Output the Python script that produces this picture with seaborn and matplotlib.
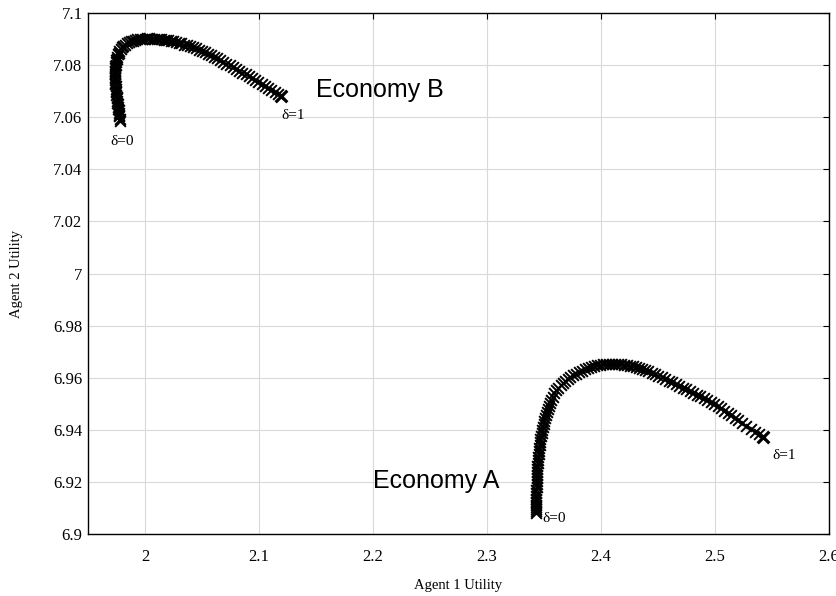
import matplotlib
matplotlib.use("Agg")
import matplotlib.pyplot as plt
import seaborn as sns
import pandas as pd

# Utility frontier traced as delta goes from 0 to 1, Economy A
econ_a_u1 = [
    2.3430, 2.3430, 2.3430, 2.3431, 2.3431, 2.3432, 2.3432, 2.3433, 2.3434, 2.3434,
    2.3435, 2.3436, 2.3437, 2.3438, 2.3439, 2.3440, 2.3441, 2.3442, 2.3444, 2.3447,
    2.3449, 2.3452, 2.3455, 2.3458, 2.3461, 2.3465, 2.3469, 2.3474, 2.3479, 2.3484,
    2.3490, 2.3496, 2.3503, 2.3509, 2.3516, 2.3524, 2.3532, 2.3542, 2.3553, 2.3564,
    2.3576,
    2.3592, 2.3609, 2.3626, 2.3646, 2.3666, 2.3687, 2.3709, 2.3732, 2.3755, 2.3780,
    2.3805, 2.3831, 2.3856, 2.3882, 2.3909, 2.3935, 2.3961, 2.3988, 2.4014, 2.4040,
    2.4067, 2.4093, 2.4119, 2.4146, 2.4172, 2.4198, 2.4225, 2.4251, 2.4277, 2.4304,
    2.4332, 2.4359,
    2.4386, 2.4415, 2.4444, 2.4474, 2.4504, 2.4533, 2.4564, 2.4595, 2.4625, 2.4656,
    2.4687, 2.4718, 2.4748, 2.4779, 2.4810, 2.4840, 2.4871, 2.4902, 2.4932, 2.4963,
    2.4994, 2.5024, 2.5054, 2.5083, 2.5113, 2.5143, 2.5173, 2.5203, 2.5239, 2.5276,
    2.5313, 2.5350, 2.5387, 2.5424,
]
econ_a_u2 = [
    6.9081, 6.9088, 6.9096, 6.9104, 6.9111, 6.9123, 6.9134, 6.9146, 6.9157, 6.9169,
    6.9180, 6.9192, 6.9203, 6.9215, 6.9227, 6.9238, 6.9250, 6.9261, 6.9273, 6.9284,
    6.9296, 6.9307, 6.9319, 6.9330, 6.9342, 6.9353, 6.9365, 6.9376, 6.9388, 6.9399,
    6.9411, 6.9422, 6.9434, 6.9445, 6.9457, 6.9468, 6.9480, 6.9491, 6.9503, 6.9514,
    6.9526,
    6.9542, 6.9552, 6.9562, 6.9571, 6.9580, 6.9588, 6.9595, 6.9603, 6.9610, 6.9616,
    6.9622, 6.9627, 6.9632, 6.9637, 6.9641, 6.9644, 6.9647, 6.9650, 6.9651, 6.9653,
    6.9654, 6.9654, 6.9654, 6.9653, 6.9652, 6.9650, 6.9648, 6.9646, 6.9643, 6.9640,
    6.9637, 6.9633,
    6.9629, 6.9624, 6.9619, 6.9614, 6.9608, 6.9602, 6.9595, 6.9589, 6.9582, 6.9575,
    6.9568, 6.9562, 6.9555, 6.9549, 6.9542, 6.9535, 6.9528, 6.9521, 6.9514, 6.9506,
    6.9498, 6.9490, 6.9482, 6.9473, 6.9464, 6.9456, 6.9446, 6.9437, 6.9426, 6.9415,
    6.9404, 6.9393, 6.9382, 6.9371,
]

# Utility frontier traced as delta goes from 0 to 1, Economy B
econ_b_u1 = [
    1.9781, 1.9778, 1.9775, 1.9773, 1.9770, 1.9768, 1.9765, 1.9762, 1.9760, 1.9757,
    1.9754, 1.9753, 1.9751, 1.9749, 1.9747, 1.9746, 1.9744, 1.9742, 1.9741, 1.9740,
    1.9739, 1.9739, 1.9739, 1.9739, 1.9739, 1.9739, 1.9740, 1.9741, 1.9743, 1.9745,
    1.9747, 1.9751, 1.9755, 1.9761,
    1.9768, 1.9776, 1.9787, 1.9798, 1.9811, 1.9825, 1.9841, 1.9858, 1.9875, 1.9894,
    1.9913, 1.9933, 1.9954, 1.9975, 1.9996, 2.0017, 2.0038, 2.0059, 2.0080, 2.0101,
    2.0122, 2.0143, 2.0164, 2.0185, 2.0206, 2.0227, 2.0249, 2.0271, 2.0294,
    2.0318, 2.0342, 2.0367, 2.0392, 2.0418, 2.0444, 2.0470, 2.0496, 2.0524, 2.0551,
    2.0578, 2.0605, 2.0632, 2.0660, 2.0687, 2.0714, 2.0742, 2.0770, 2.0798, 2.0826,
    2.0854, 2.0882, 2.0911, 2.0939, 2.0967, 2.0995, 2.1023, 2.1051, 2.1079, 2.1108,
    2.1137, 2.1166, 2.1195,
]
econ_b_u2 = [
    7.0587, 7.0595, 7.0603, 7.0610, 7.0618, 7.0626, 7.0633, 7.0641, 7.0649, 7.0656,
    7.0664, 7.0672, 7.0679, 7.0687, 7.0695, 7.0702, 7.0710, 7.0718, 7.0726, 7.0733,
    7.0741, 7.0749, 7.0756, 7.0764, 7.0772, 7.0779, 7.0787, 7.0795, 7.0802, 7.0810,
    7.0818, 7.0825, 7.0833, 7.0841,
    7.0848, 7.0855, 7.0861, 7.0868, 7.0873, 7.0879, 7.0883, 7.0888, 7.0891, 7.0894,
    7.0897, 7.0899, 7.0901, 7.0902, 7.0902, 7.0903, 7.0903, 7.0902, 7.0902, 7.0901,
    7.0901, 7.0899, 7.0898, 7.0897, 7.0895, 7.0893, 7.0891, 7.0889, 7.0886,
    7.0883, 7.0879, 7.0876, 7.0872, 7.0868, 7.0864, 7.0859, 7.0854, 7.0849, 7.0843,
    7.0838, 7.0832, 7.0826, 7.0820, 7.0813, 7.0806, 7.0800, 7.0793, 7.0786, 7.0778,
    7.0771, 7.0764, 7.0757, 7.0749, 7.0742, 7.0735, 7.0727, 7.0720, 7.0713, 7.0705,
    7.0697, 7.0690, 7.0682,
]

x_ticks = [2.0, 2.1, 2.2, 2.3, 2.4, 2.5, 2.6]
x_tick_labels = ["2", "2.1", "2.2", "2.3", "2.4", "2.5", "2.6"]
y_ticks = [6.90, 6.92, 6.94, 6.96, 6.98, 7.00, 7.02, 7.04, 7.06, 7.08, 7.10]
y_tick_labels = ["6.9", "6.92", "6.94", "6.96", "6.98", "7", "7.02", "7.04",
                 "7.06", "7.08", "7.1"]

# Text annotations: (label, x, y)
economy_labels = [("Economy B", 2.15, 7.0705), ("Economy A", 2.20, 6.9205)]
delta_labels = [("δ=1", 2.55, 6.9303), ("δ=0", 2.349, 6.9058),
                ("δ=1", 2.1193, 7.0605), ("δ=0", 1.9693, 7.0505)]

sns.set_theme(style="white")
plt.rcParams["font.family"] = ["Liberation Serif", "DejaVu Serif"]

fig = plt.figure(figsize=(8.37, 5.96), dpi=100)
ax = fig.add_axes([88 / 837, 62 / 596, 741 / 837, 521 / 596])

frames = []
for name, u1, u2 in [("A", econ_a_u1, econ_a_u2), ("B", econ_b_u1, econ_b_u2)]:
    frames.append(pd.DataFrame({"economy": name, "u1": u1, "u2": u2}))
df = pd.concat(frames, ignore_index=True)

for name, sub in df.groupby("economy"):
    sns.scatterplot(data=sub, x="u1", y="u2", marker="x", color="black",
                    s=60, linewidth=1.4, ax=ax, legend=False, zorder=3)
    # the delta = 1 end point is drawn heavier
    sns.scatterplot(x=[sub["u1"].iloc[-1]], y=[sub["u2"].iloc[-1]], marker="x",
                    color="black", s=70, linewidth=2.3, ax=ax, legend=False,
                    zorder=4)

ax.set_xlim(1.95, 2.6)
ax.set_ylim(6.9, 7.1)
ax.set_xticks(x_ticks)
ax.set_xticklabels(x_tick_labels)
ax.set_yticks(y_ticks)
ax.set_yticklabels(y_tick_labels)

ax.grid(True, color="#d9d9d9", linewidth=0.8)
ax.set_axisbelow(True)
for sp in ax.spines.values():
    sp.set_color("black")
    sp.set_linewidth(1.0)

ax.tick_params(axis="both", direction="in", length=4.5, width=0.8,
               color="black", top=True, right=True, labelsize=12,
               labelcolor="black")
ax.tick_params(axis="x", pad=11)
ax.tick_params(axis="y", pad=4)

ax.set_xlabel("Agent 1 Utility", fontsize=10.5, color="black")
ax.set_ylabel("Agent 2 Utility", fontsize=10.5, color="black")
ax.xaxis.label.set_va("center")
ax.yaxis.label.set_va("center")
ax.xaxis.set_label_coords(0.5, -0.098)
ax.yaxis.set_label_coords(-0.097, 0.5)

for text, x, y in economy_labels:
    ax.text(x, y, text, fontsize=18, family=["Liberation Sans", "DejaVu Sans"],
            ha="left", va="center", color="black", zorder=5)
for text, x, y in delta_labels:
    ax.text(x, y, text, fontsize=11, ha="left", va="center", color="black",
            zorder=5)

fig.savefig("out.png", dpi=100, facecolor="white")
